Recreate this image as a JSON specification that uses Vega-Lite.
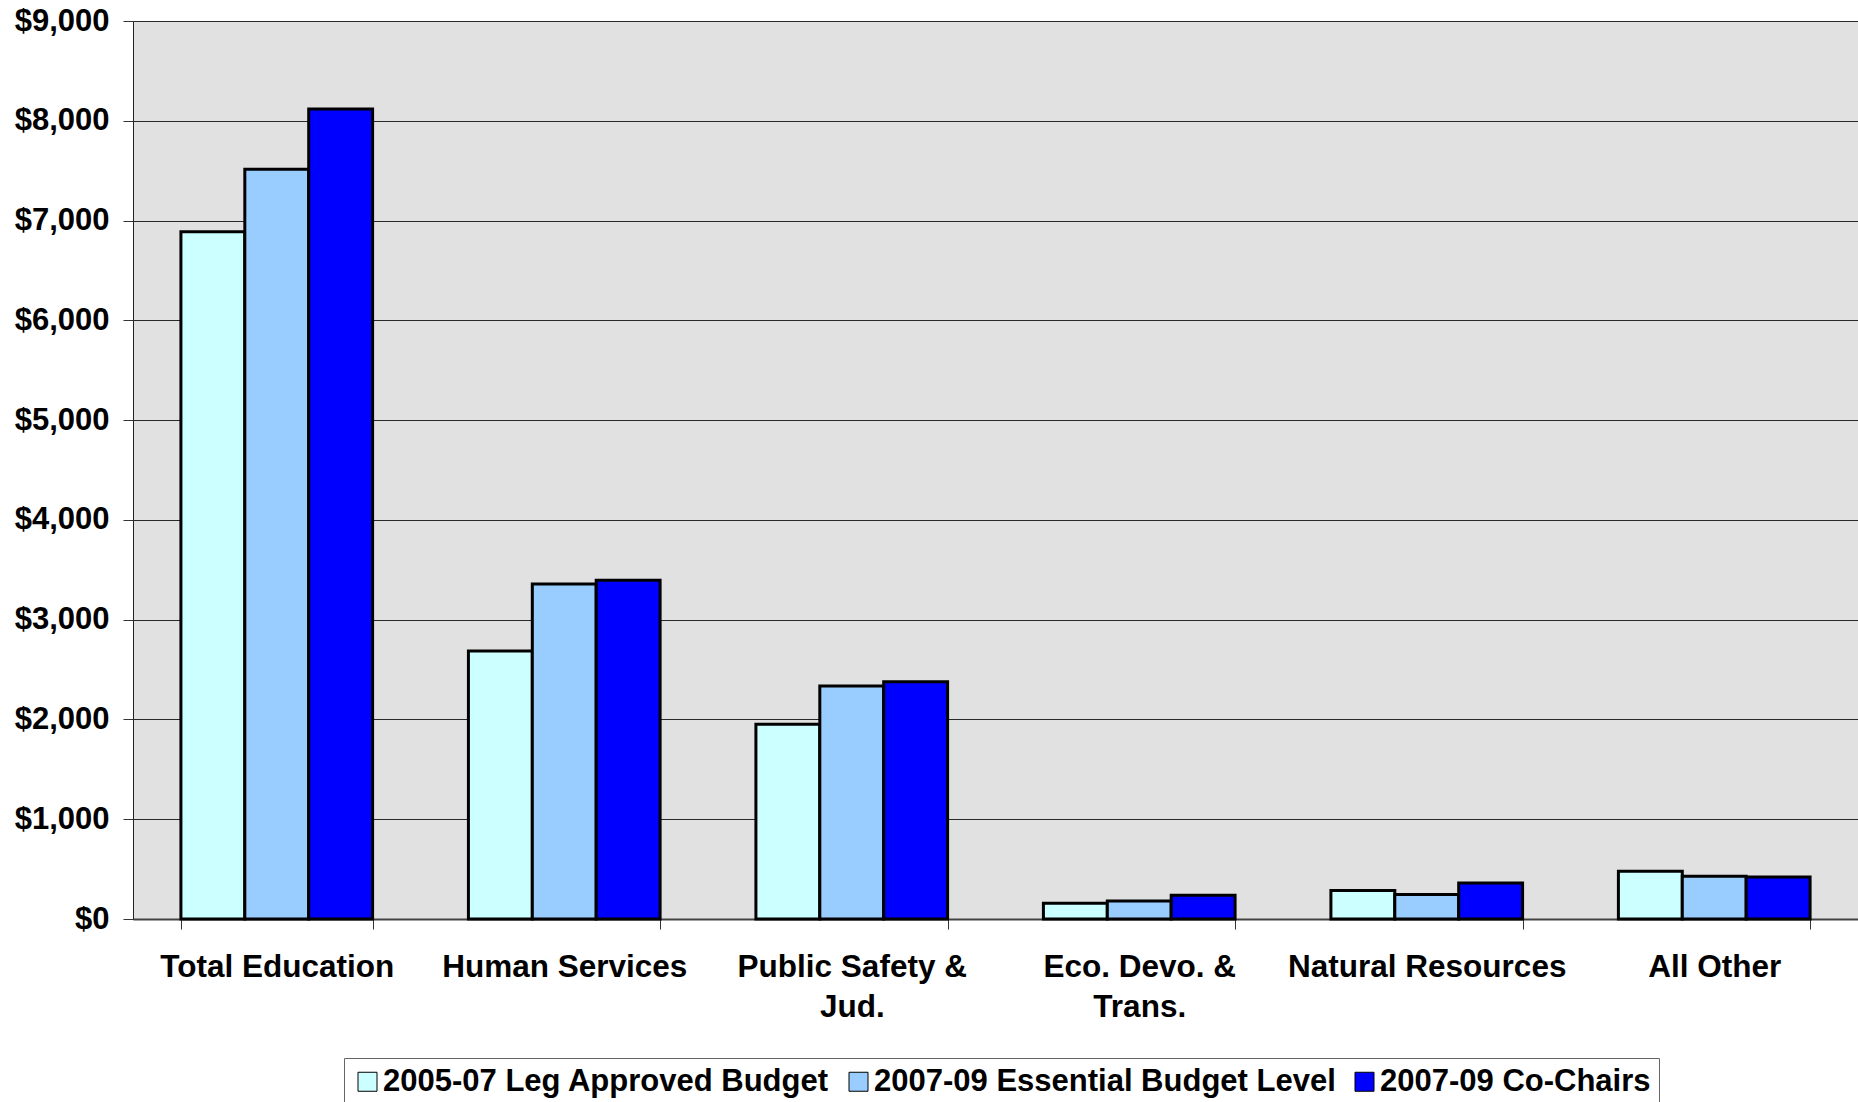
{
  "$schema": "https://vega.github.io/schema/vega-lite/v6.json",
  "autosize": "none",
  "width": 1725,
  "height": 898,
  "padding": {"left": 133, "top": 21, "right": 0, "bottom": 183},
  "background": "white",
  "config": {
    "font": "Liberation Sans",
    "view": {"fill": "#e1e1e1", "stroke": null}
  },
  "data": {
    "values": [
      {"category": "Total Education", "series": "2005-07 Leg Approved Budget", "value": 6887},
      {"category": "Total Education", "series": "2007-09 Essential Budget Level", "value": 7515},
      {"category": "Total Education", "series": "2007-09 Co-Chairs", "value": 8117},
      {"category": "Human Services", "series": "2005-07 Leg Approved Budget", "value": 2685},
      {"category": "Human Services", "series": "2007-09 Essential Budget Level", "value": 3357},
      {"category": "Human Services", "series": "2007-09 Co-Chairs", "value": 3394},
      {"category": "Public Safety & Jud.", "series": "2005-07 Leg Approved Budget", "value": 1951},
      {"category": "Public Safety & Jud.", "series": "2007-09 Essential Budget Level", "value": 2335},
      {"category": "Public Safety & Jud.", "series": "2007-09 Co-Chairs", "value": 2378},
      {"category": "Eco. Devo. & Trans.", "series": "2005-07 Leg Approved Budget", "value": 157},
      {"category": "Eco. Devo. & Trans.", "series": "2007-09 Essential Budget Level", "value": 180},
      {"category": "Eco. Devo. & Trans.", "series": "2007-09 Co-Chairs", "value": 237},
      {"category": "Natural Resources", "series": "2005-07 Leg Approved Budget", "value": 285},
      {"category": "Natural Resources", "series": "2007-09 Essential Budget Level", "value": 245},
      {"category": "Natural Resources", "series": "2007-09 Co-Chairs", "value": 362},
      {"category": "All Other", "series": "2005-07 Leg Approved Budget", "value": 478},
      {"category": "All Other", "series": "2007-09 Essential Budget Level", "value": 428},
      {"category": "All Other", "series": "2007-09 Co-Chairs", "value": 421}
    ]
  },
  "mark": {"type": "bar", "stroke": "black", "strokeWidth": 3},
  "encoding": {
    "x": {
      "field": "category",
      "type": "nominal",
      "sort": null,
      "scale": {"paddingInner": 0.3333, "paddingOuter": 0.1667},
      "axis": {
        "title": null,
        "labelAngle": 0,
        "labelFont": "Liberation Sans",
        "labelFontWeight": "bold",
        "labelFontSize": 31.5,
        "labelColor": "black",
        "labelPadding": 22,
        "labelLineHeight": 40,
        "labelLimit": 400,
        "tickBand": "extent",
        "tickSize": 10,
        "tickColor": "#333333",
        "tickWidth": 1,
        "domainColor": "#444444",
        "domainWidth": 2,
        "grid": false,
        "labelExpr": "datum.value == 'Public Safety & Jud.' ? ['Public Safety &', 'Jud.'] : datum.value == 'Eco. Devo. & Trans.' ? ['Eco. Devo. &', 'Trans.'] : datum.value"
      }
    },
    "xOffset": {
      "field": "series",
      "type": "nominal",
      "sort": ["2005-07 Leg Approved Budget", "2007-09 Essential Budget Level", "2007-09 Co-Chairs"],
      "scale": {"paddingInner": 0, "paddingOuter": 0}
    },
    "y": {
      "field": "value",
      "type": "quantitative",
      "scale": {"domain": [0, 9000], "nice": false},
      "axis": {
        "title": null,
        "values": [0, 1000, 2000, 3000, 4000, 5000, 6000, 7000, 8000, 9000],
        "format": "$,.0f",
        "labelFont": "Liberation Sans",
        "labelFontWeight": "bold",
        "labelFontSize": 31,
        "labelColor": "black",
        "labelPadding": 14,
        "tickSize": 10,
        "tickColor": "#333333",
        "domainColor": "#222222",
        "domainWidth": 1,
        "gridColor": "#2a2a2a",
        "gridWidth": 1,
        "gridOpacity": 1
      }
    },
    "color": {
      "field": "series",
      "type": "nominal",
      "sort": ["2005-07 Leg Approved Budget", "2007-09 Essential Budget Level", "2007-09 Co-Chairs"],
      "scale": {
        "domain": ["2005-07 Leg Approved Budget", "2007-09 Essential Budget Level", "2007-09 Co-Chairs"],
        "range": ["#ccffff", "#99ccff", "#0000ff"]
      },
      "legend": {
        "title": null,
        "orient": "none",
        "direction": "horizontal",
        "legendX": 211,
        "legendY": 1037,
        "padding": 8,
        "strokeColor": "#666666",
        "fillColor": "white",
        "symbolType": "square",
        "symbolSize": 361,
        "symbolStrokeColor": "black",
        "symbolStrokeWidth": 1,
        "symbolOpacity": 1,
        "labelFont": "Liberation Sans",
        "labelFontWeight": "bold",
        "labelFontSize": 31,
        "labelColor": "black",
        "labelOffset": 0,
        "labelLimit": 600,
        "columnPadding": 13
      }
    }
  }
}
